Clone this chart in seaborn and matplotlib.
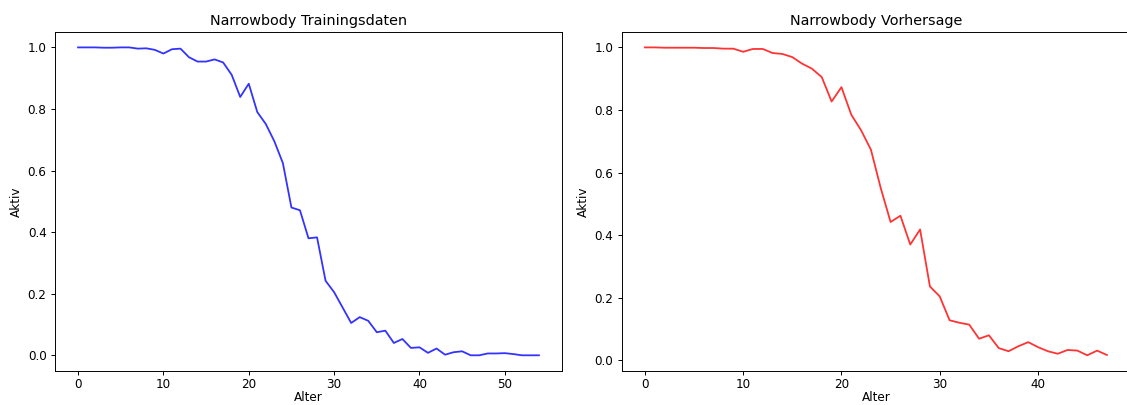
import numpy as np
import pandas as pd
import matplotlib
matplotlib.use("Agg")
import matplotlib.pyplot as plt
import seaborn as sns

# Training data (Alter 0..54)
train_alter = list(range(55))
train_aktiv = [1.0, 1.0, 1.0, 0.999, 0.999, 1.0, 1.0, 0.996, 0.997, 0.992,
               0.98, 0.994, 0.996, 0.968, 0.954, 0.954, 0.961, 0.951, 0.911, 0.839,
               0.882, 0.79, 0.751, 0.695, 0.624, 0.48, 0.471, 0.38, 0.383, 0.242,
               0.205, 0.155, 0.105, 0.124, 0.112, 0.075, 0.08, 0.04, 0.053, 0.024,
               0.026, 0.008, 0.022, 0.002, 0.01, 0.013, 0.0, 0.0, 0.006, 0.006,
               0.007, 0.004, 0.0, 0.0, 0.0]

# Prediction (Alter 0..47)
pred_alter = list(range(48))
pred_aktiv = [1.0, 1.0, 0.999, 0.999, 0.999, 0.999, 0.998, 0.998, 0.996, 0.996,
              0.986, 0.995, 0.995, 0.982, 0.979, 0.969, 0.948, 0.932, 0.905, 0.827,
              0.873, 0.785, 0.735, 0.673, 0.55, 0.442, 0.462, 0.37, 0.418, 0.236,
              0.204, 0.128, 0.12, 0.114, 0.069, 0.08, 0.039, 0.029, 0.045, 0.058,
              0.042, 0.029, 0.021, 0.033, 0.031, 0.016, 0.031, 0.017]

titles = ["Narrowbody Trainingsdaten", "Narrowbody Vorhersage"]
x_label = "Alter"
y_label = "Aktiv"

plt.rcParams['font.family'] = ['DejaVu Sans']

W, H = 1127, 405
DPI = 72
S = 1.2
fig = plt.figure(figsize=(W / DPI, H / DPI), dpi=DPI)

def rect(l, r, t, b):
    return [l / W, 1 - b / H, (r - l) / W, (b - t) / H]

ax1 = fig.add_axes(rect(55, 562, 32, 370.7))
ax2 = fig.add_axes(rect(621.7, 1130, 32, 370.7))

df1 = pd.DataFrame({x_label: train_alter, y_label: train_aktiv})
df2 = pd.DataFrame({x_label: pred_alter, y_label: pred_aktiv})

sns.lineplot(data=df1, x=x_label, y=y_label, ax=ax1, color="blue", alpha=0.8, linewidth=1.5 * S)
sns.lineplot(data=df2, x=x_label, y=y_label, ax=ax2, color="red", alpha=0.8, linewidth=1.5 * S)

for ax, t in zip([ax1, ax2], titles):
    ax.set_title(t, fontsize=12 * S, pad=6 * S)
    ax.set_xlabel(x_label, fontsize=10 * S, labelpad=0.5)
    ax.set_ylabel(y_label, fontsize=10 * S, labelpad=4 * S)
    ax.tick_params(labelsize=10 * S, length=3.5 * S, width=0.8 * S, pad=3.5 * S)
    ax.tick_params(axis="x", pad=3)
    ax.set_yticks([0.0, 0.2, 0.4, 0.6, 0.8, 1.0])
    for sp in ax.spines.values():
        sp.set_linewidth(0.8 * S)

fig.savefig("out.png", dpi=DPI)
